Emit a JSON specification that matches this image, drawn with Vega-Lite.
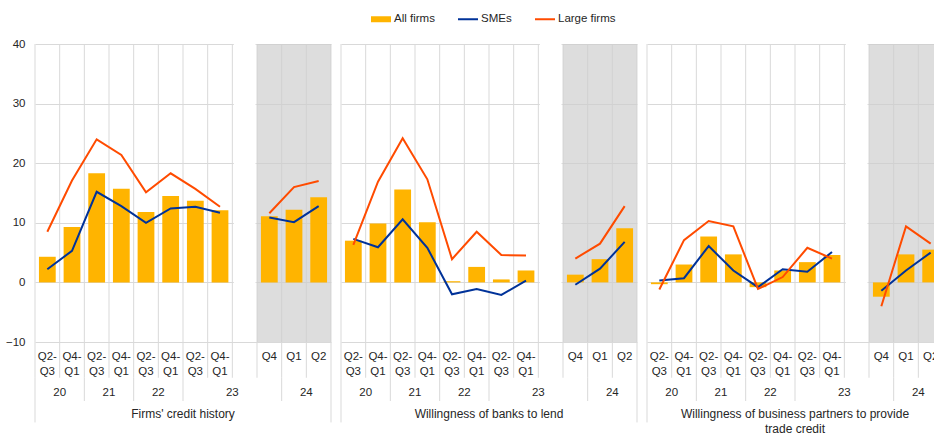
{
  "$schema": "https://vega.github.io/schema/vega-lite/v6.json",
  "background": "white",
  "padding": {"left": 5, "top": 9, "right": 0, "bottom": 0},
  "bounds": "flush",
  "spacing": 10,
  "config": {"view": {"stroke": null}, "font": "Liberation Sans"},
  "data": {"values": [
    {"p":"1","s":"c1","k":"All firms","v":4.3},{"p":"1","s":"c2","k":"All firms","v":9.3},{"p":"1","s":"c3","k":"All firms","v":18.3},{"p":"1","s":"c4","k":"All firms","v":15.7},{"p":"1","s":"c5","k":"All firms","v":11.8},{"p":"1","s":"c6","k":"All firms","v":14.5},{"p":"1","s":"c7","k":"All firms","v":13.7},{"p":"1","s":"c8","k":"All firms","v":12.1},{"p":"1","s":"r1","k":"All firms","v":11.1},{"p":"1","s":"r2","k":"All firms","v":12.2},{"p":"1","s":"r3","k":"All firms","v":14.3},
    {"p":"1","s":"c1","k":"SMEs","v":2.2},{"p":"1","s":"c2","k":"SMEs","v":5.3},{"p":"1","s":"c3","k":"SMEs","v":15.2},{"p":"1","s":"c4","k":"SMEs","v":12.8},{"p":"1","s":"c5","k":"SMEs","v":10.0},{"p":"1","s":"c6","k":"SMEs","v":12.4},{"p":"1","s":"c7","k":"SMEs","v":12.7},{"p":"1","s":"c8","k":"SMEs","v":11.7},{"p":"1","s":"r1","k":"SMEs","v":10.9},{"p":"1","s":"r2","k":"SMEs","v":10.1},{"p":"1","s":"r3","k":"SMEs","v":12.8},
    {"p":"1","s":"c1","k":"Large firms","v":8.5},{"p":"1","s":"c2","k":"Large firms","v":17.1},{"p":"1","s":"c3","k":"Large firms","v":24.0},{"p":"1","s":"c4","k":"Large firms","v":21.4},{"p":"1","s":"c5","k":"Large firms","v":15.1},{"p":"1","s":"c6","k":"Large firms","v":18.3},{"p":"1","s":"c7","k":"Large firms","v":15.7},{"p":"1","s":"c8","k":"Large firms","v":12.7},{"p":"1","s":"r1","k":"Large firms","v":11.6},{"p":"1","s":"r2","k":"Large firms","v":16.0},{"p":"1","s":"r3","k":"Large firms","v":17.0},
    {"p":"2","s":"c1","k":"All firms","v":7.0},{"p":"2","s":"c2","k":"All firms","v":9.9},{"p":"2","s":"c3","k":"All firms","v":15.6},{"p":"2","s":"c4","k":"All firms","v":10.1},{"p":"2","s":"c5","k":"All firms","v":0.2},{"p":"2","s":"c6","k":"All firms","v":2.6},{"p":"2","s":"c7","k":"All firms","v":0.5},{"p":"2","s":"c8","k":"All firms","v":2.0},{"p":"2","s":"r1","k":"All firms","v":1.3},{"p":"2","s":"r2","k":"All firms","v":3.9},{"p":"2","s":"r3","k":"All firms","v":9.1},
    {"p":"2","s":"c1","k":"SMEs","v":7.3},{"p":"2","s":"c2","k":"SMEs","v":5.9},{"p":"2","s":"c3","k":"SMEs","v":10.6},{"p":"2","s":"c4","k":"SMEs","v":5.8},{"p":"2","s":"c5","k":"SMEs","v":-2.0},{"p":"2","s":"c6","k":"SMEs","v":-1.1},{"p":"2","s":"c7","k":"SMEs","v":-2.1},{"p":"2","s":"c8","k":"SMEs","v":0.3},{"p":"2","s":"r1","k":"SMEs","v":-0.4},{"p":"2","s":"r2","k":"SMEs","v":2.3},{"p":"2","s":"r3","k":"SMEs","v":6.8},
    {"p":"2","s":"c1","k":"Large firms","v":6.3},{"p":"2","s":"c2","k":"Large firms","v":16.9},{"p":"2","s":"c3","k":"Large firms","v":24.2},{"p":"2","s":"c4","k":"Large firms","v":17.3},{"p":"2","s":"c5","k":"Large firms","v":3.9},{"p":"2","s":"c6","k":"Large firms","v":8.5},{"p":"2","s":"c7","k":"Large firms","v":4.6},{"p":"2","s":"c8","k":"Large firms","v":4.5},{"p":"2","s":"r1","k":"Large firms","v":4.0},{"p":"2","s":"r2","k":"Large firms","v":6.5},{"p":"2","s":"r3","k":"Large firms","v":12.8},
    {"p":"3","s":"c1","k":"All firms","v":-0.3},{"p":"3","s":"c2","k":"All firms","v":3.0},{"p":"3","s":"c3","k":"All firms","v":7.7},{"p":"3","s":"c4","k":"All firms","v":4.7},{"p":"3","s":"c5","k":"All firms","v":-0.8},{"p":"3","s":"c6","k":"All firms","v":2.0},{"p":"3","s":"c7","k":"All firms","v":3.4},{"p":"3","s":"c8","k":"All firms","v":4.6},{"p":"3","s":"r1","k":"All firms","v":-2.4},{"p":"3","s":"r2","k":"All firms","v":4.7},{"p":"3","s":"r3","k":"All firms","v":5.5},
    {"p":"3","s":"c1","k":"SMEs","v":0.3},{"p":"3","s":"c2","k":"SMEs","v":0.7},{"p":"3","s":"c3","k":"SMEs","v":6.1},{"p":"3","s":"c4","k":"SMEs","v":2.0},{"p":"3","s":"c5","k":"SMEs","v":-0.8},{"p":"3","s":"c6","k":"SMEs","v":2.2},{"p":"3","s":"c7","k":"SMEs","v":1.8},{"p":"3","s":"c8","k":"SMEs","v":5.1},{"p":"3","s":"r1","k":"SMEs","v":-1.4},{"p":"3","s":"r2","k":"SMEs","v":2.0},{"p":"3","s":"r3","k":"SMEs","v":5.0},
    {"p":"3","s":"c1","k":"Large firms","v":-1.2},{"p":"3","s":"c2","k":"Large firms","v":7.1},{"p":"3","s":"c3","k":"Large firms","v":10.3},{"p":"3","s":"c4","k":"Large firms","v":9.4},{"p":"3","s":"c5","k":"Large firms","v":-1.1},{"p":"3","s":"c6","k":"Large firms","v":0.9},{"p":"3","s":"c7","k":"Large firms","v":5.8},{"p":"3","s":"c8","k":"Large firms","v":4.0},{"p":"3","s":"r1","k":"Large firms","v":-4.0},{"p":"3","s":"r2","k":"Large firms","v":9.4},{"p":"3","s":"r3","k":"Large firms","v":6.5},
    {"p":"1","s":"g","k":"gap"},{"p":"2","s":"g","k":"gap"},{"p":"3","s":"g","k":"gap"},
    {"p":"1","s":"c1","k":"yr","t":"20"},{"p":"1","s":"c3","k":"yr","t":"21"},{"p":"1","s":"c5","k":"yr","t":"22"},{"p":"1","s":"c8","k":"yr","t":"23"},{"p":"1","s":"r2","k":"yr","t":"24"},
    {"p":"2","s":"c1","k":"yr","t":"20"},{"p":"2","s":"c3","k":"yr","t":"21"},{"p":"2","s":"c5","k":"yr","t":"22"},{"p":"2","s":"c8","k":"yr","t":"23"},{"p":"2","s":"r2","k":"yr","t":"24"},
    {"p":"3","s":"c1","k":"yr","t":"20"},{"p":"3","s":"c3","k":"yr","t":"21"},{"p":"3","s":"c5","k":"yr","t":"22"},{"p":"3","s":"c8","k":"yr","t":"23"},{"p":"3","s":"r2","k":"yr","t":"24"},
    {"p":"1","s":"c7","k":"title","t":"Firms' credit history"},
    {"p":"2","s":"c7","k":"title","t":"Willingness of banks to lend"},
    {"p":"3","s":"c7","k":"title","t":"Willingness of business partners to provide\ntrade credit"}
  ]},
  "facet": {"column": {"field": "p", "type": "nominal", "header": {"labels": false, "title": null, "labelPadding": 0, "titlePadding": 0}, "sort": ["1","2","3"]}},
  "resolve": {"scale": {"color": "shared", "shape": "shared"}},
  "spec": {
    "width": 296,
    "height": 298,
    "encoding": {
      "x": {"field": "s", "type": "nominal",
        "scale": {"domain": ["c1","c2","c3","c4","c5","c6","c7","c8","g","r1","r2","r3"], "paddingInner": 0, "paddingOuter": 0},
        "axis": {"title": null, "domain": false, "ticks": false, "grid": false, "labelAngle": 0, "labelPadding": 8, "labelFontSize": 11.5, "labelLineHeight": 15, "labelColor": "#262626", "labelOverlap": false,
          "labelExpr": "datum.value == 'r1' ? 'Q4' : datum.value == 'r2' ? 'Q1' : datum.value == 'r3' ? 'Q2' : datum.value == 'g' ? '' : indexof(['c1','c3','c5','c7'], datum.value) >= 0 ? ['Q2-','Q3'] : ['Q4-','Q1']"}}
    },
    "layer": [
      {
        "transform": [{"filter": "datum.k == 'All firms' || datum.k == 'SMEs' || datum.k == 'Large firms'"}],
        "mark": {"type": "point", "filled": true, "opacity": 0},
        "encoding": {
          "y": {"field": "v", "type": "quantitative", "scale": {"domain": [-10, 40], "nice": false},
            "axis": {"title": null, "values": [-10, 0, 10, 20, 30, 40], "domain": false, "ticks": false, "labelPadding": 10, "labelFontSize": 11.5, "labelColor": "#262626", "grid": true, "gridColor": "#d9d9d9", "gridWidth": 1}},
          "color": {"field": "k", "type": "nominal", "scale": {"domain": ["All firms", "SMEs", "Large firms"], "range": ["#FFB400", "#003299", "#FF4B00"]},
            "legend": {"orient": "none", "legendX": 336, "legendY": -35, "direction": "horizontal", "title": null, "symbolSize": 400, "symbolOpacity": 1, "symbolStrokeWidth": 0, "labelFontSize": 11.5, "labelColor": "#262626", "labelOffset": 3, "columnPadding": 23}},
          "shape": {"field": "k", "type": "nominal", "scale": {"domain": ["All firms", "SMEs", "Large firms"], "range": ["M-1,-0.3H1V0.3H-1Z", "M-1,-0.1H1V0.1H-1Z", "M-1,-0.1H1V0.1H-1Z"]},
            "legend": {"orient": "none", "legendX": 336, "legendY": -35, "direction": "horizontal", "title": null, "symbolSize": 400, "symbolOpacity": 1, "symbolStrokeWidth": 0, "labelFontSize": 11.5, "labelColor": "#262626", "labelOffset": 3, "columnPadding": 23}}
        }
      },
      {
        "transform": [{"filter": "datum.k == 'All firms' || datum.k == 'gap'"}],
        "mark": {"type": "rule", "color": "#d9d9d9", "strokeWidth": 1},
        "encoding": {
          "x": {"field": "s", "type": "nominal", "bandPosition": 0},
          "y": {"datum": 40, "type": "quantitative"},
          "y2": {"datum": -16}
        }
      },
      {
        "transform": [{"filter": "datum.k == 'All firms' && indexof(['c3','c5','c7','r2'], datum.s) >= 0"}],
        "mark": {"type": "rule", "color": "#d9d9d9", "strokeWidth": 1},
        "encoding": {
          "x": {"field": "s", "type": "nominal", "bandPosition": 0},
          "y": {"datum": -16, "type": "quantitative"},
          "y2": {"datum": -19.9}
        }
      },
      {
        "transform": [{"filter": "datum.k == 'All firms' && datum.s == 'c1'"}],
        "mark": {"type": "rule", "color": "#d9d9d9", "strokeWidth": 1},
        "encoding": {
          "x": {"field": "s", "type": "nominal", "bandPosition": 0},
          "y": {"datum": -16, "type": "quantitative"},
          "y2": {"datum": -23.5}
        }
      },
      {
        "transform": [{"filter": "datum.k == 'All firms' && datum.s == 'r3'"}],
        "mark": {"type": "rule", "color": "#d9d9d9", "strokeWidth": 1},
        "encoding": {
          "x": {"field": "s", "type": "nominal", "bandPosition": 1},
          "y": {"datum": 40, "type": "quantitative"},
          "y2": {"datum": -23.5}
        }
      },
      {
        "transform": [{"filter": "datum.k == 'All firms' && indexof(['r1','r2','r3'], datum.s) >= 0"}],
        "mark": {"type": "bar", "fill": "#cccccc", "opacity": 0.67, "width": {"band": 1}},
        "encoding": {
          "y": {"datum": 40, "type": "quantitative"},
          "y2": {"datum": -10}
        }
      },
      {
        "transform": [{"filter": "datum.k == 'gap'"}],
        "mark": {"type": "bar", "fill": "white", "width": {"band": 0.88}},
        "encoding": {
          "y": {"datum": 40, "type": "quantitative"},
          "y2": {"datum": -10}
        }
      },
      {
        "transform": [{"filter": "datum.k == 'All firms'"}],
        "mark": {"type": "bar", "color": "#FFB400", "width": {"band": 0.68}},
        "encoding": {
          "y": {"field": "v", "type": "quantitative"}
        }
      },
      {
        "transform": [{"filter": "(datum.k == 'SMEs' || datum.k == 'Large firms') && indexof(['c1','c2','c3','c4','c5','c6','c7','c8'], datum.s) >= 0"}],
        "mark": {"type": "line", "strokeWidth": 2},
        "encoding": {
          "y": {"field": "v", "type": "quantitative"},
          "color": {"field": "k", "type": "nominal"}
        }
      },
      {
        "transform": [{"filter": "(datum.k == 'SMEs' || datum.k == 'Large firms') && indexof(['r1','r2','r3'], datum.s) >= 0"}],
        "mark": {"type": "line", "strokeWidth": 2},
        "encoding": {
          "y": {"field": "v", "type": "quantitative"},
          "color": {"field": "k", "type": "nominal"}
        }
      },
      {
        "transform": [{"filter": "datum.k == 'yr'"}],
        "mark": {"type": "text", "fontSize": 11.5, "color": "#262626", "baseline": "middle", "align": "center"},
        "encoding": {
          "x": {"field": "s", "type": "nominal", "bandPosition": 1},
          "y": {"datum": -18.6, "type": "quantitative"},
          "text": {"field": "t", "type": "nominal"}
        }
      },
      {
        "transform": [{"filter": "datum.k == 'title'"}],
        "mark": {"type": "text", "fontSize": 12, "color": "#262626", "baseline": "top", "align": "center", "lineBreak": "\n", "lineHeight": 15},
        "encoding": {
          "x": {"field": "s", "type": "nominal", "bandPosition": 0},
          "y": {"datum": -21.3, "type": "quantitative"},
          "text": {"field": "t", "type": "nominal"}
        }
      }
    ]
  }
}
